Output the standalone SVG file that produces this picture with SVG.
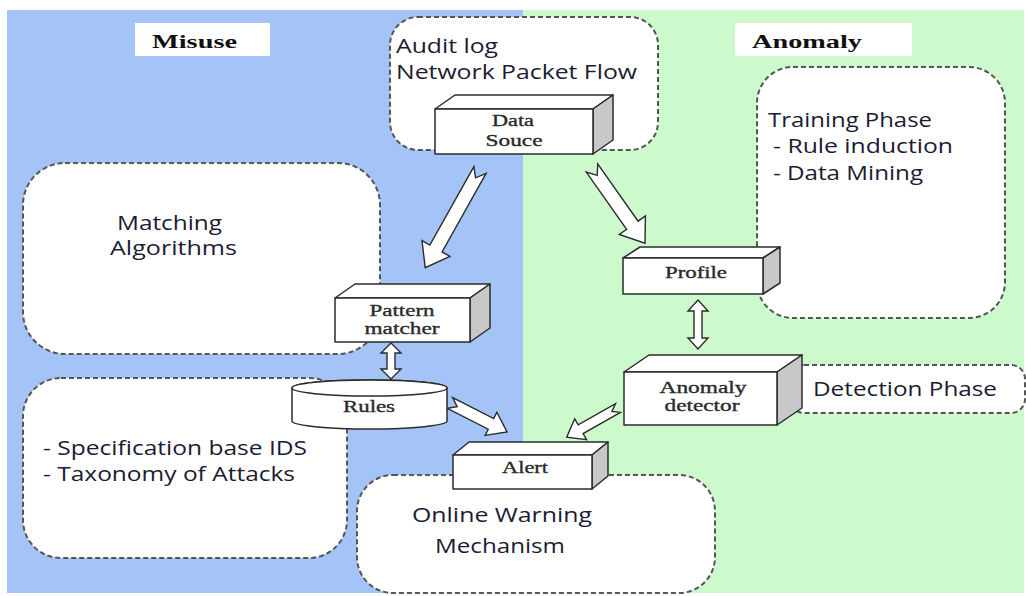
<svg xmlns="http://www.w3.org/2000/svg" width="1026" height="596" viewBox="0 0 1026 596">
  <style>
    .zone-label { font-family: "Liberation Serif", serif; font-weight: bold; font-size: 19px; fill: #111; }
    .note { font-family: "Open Sans", "Liberation Sans", sans-serif; font-size: 20px; fill: #1b1b33; }
    .boxtxt { font-family: "Liberation Serif", serif; font-size: 17px; fill: #2a2a2a; stroke: #2a2a2a; stroke-width: 0.35; text-anchor: middle; }
    .dashed { fill: #fff; stroke: #555; stroke-width: 2; stroke-dasharray: 5 3; }
    .face { fill: #fff; stroke: #2b2b2b; stroke-width: 1.5; stroke-linejoin: round; }
    .side { fill: #c8c8c8; stroke: #2b2b2b; stroke-width: 1.5; stroke-linejoin: round; }
    .arrow { fill: #fff; stroke: #2b2b2b; stroke-width: 1.4; stroke-linejoin: miter; }
  </style>

  <!-- background panels -->
  <rect x="0" y="0" width="1026" height="596" fill="#fff"/>
  <rect x="7" y="10" width="516" height="583" fill="#a4c3f6"/>
  <rect x="523" y="10" width="501" height="583" fill="#ccfacc"/>

  <!-- section titles -->
  <g id="misuse-title">
    <rect x="135" y="23" width="135" height="33" fill="#fff"/>
    <text class="zone-label" x="152" y="48" textLength="85" lengthAdjust="spacingAndGlyphs">Misuse</text>
  </g>
  <g id="anomaly-title">
    <rect x="735" y="23" width="177" height="33" fill="#fff"/>
    <text class="zone-label" x="752" y="48" textLength="110" lengthAdjust="spacingAndGlyphs">Anomaly</text>
  </g>

  <!-- annotation panels -->
  <g id="source-note">
    <rect class="dashed" x="390" y="17" width="268" height="133" rx="28"/>
    <text class="note" x="396" y="53" textLength="102" lengthAdjust="spacingAndGlyphs">Audit log</text>
    <text class="note" x="396" y="79" textLength="241" lengthAdjust="spacingAndGlyphs">Network Packet Flow</text>
  </g>
  <g id="matching-note">
    <rect class="dashed" x="23" y="163" width="357" height="191" rx="42"/>
    <text class="note" x="117" y="230" textLength="105" lengthAdjust="spacingAndGlyphs">Matching</text>
    <text class="note" x="110" y="255" textLength="127" lengthAdjust="spacingAndGlyphs">Algorithms</text>
  </g>
  <g id="spec-note">
    <rect class="dashed" x="23" y="378" width="324" height="180" rx="38"/>
    <text class="note" x="43" y="455" textLength="264" lengthAdjust="spacingAndGlyphs">- Specification base IDS</text>
    <text class="note" x="43" y="481" textLength="252" lengthAdjust="spacingAndGlyphs">- Taxonomy of Attacks</text>
  </g>
  <g id="training-note">
    <rect class="dashed" x="757" y="67" width="248" height="251" rx="36"/>
    <text class="note" x="768" y="127" textLength="164" lengthAdjust="spacingAndGlyphs">Training Phase</text>
    <text class="note" x="773" y="153" textLength="180" lengthAdjust="spacingAndGlyphs">- Rule induction</text>
    <text class="note" x="773" y="180" textLength="150" lengthAdjust="spacingAndGlyphs">- Data Mining</text>
  </g>
  <g id="detection-note">
    <rect class="dashed" x="790" y="365" width="235" height="48" rx="14"/>
    <text class="note" x="813" y="396" textLength="184" lengthAdjust="spacingAndGlyphs">Detection Phase</text>
  </g>
  <g id="warning-note">
    <rect class="dashed" x="357" y="475" width="358" height="118" rx="36"/>
    <text class="note" x="412" y="522" textLength="180" lengthAdjust="spacingAndGlyphs">Online Warning</text>
    <text class="note" x="435" y="553" textLength="130" lengthAdjust="spacingAndGlyphs">Mechanism</text>
  </g>

  <!-- connectors: block arrows -->
  <g id="connectors">
    <!-- Data Souce to Pattern matcher -->
    <path class="arrow" transform="translate(480,170) rotate(119.3)" d="M0,-7 L90,-7 L90,-16 L112,0 L90,16 L90,7 L0,7 L9,0 Z"/>
    <!-- Data Souce to Profile -->
    <path class="arrow" transform="translate(592,168) rotate(54.8)" d="M0,-7 L70,-7 L70,-16 L92,0 L70,16 L70,7 L0,7 L9,0 Z"/>
    <!-- Rules to Alert -->
    <path class="arrow" transform="translate(450,403) rotate(27)" d="M0,-6 L46,-6 L46,-13 L64,0 L46,13 L46,6 L0,6 L8,0 Z"/>
    <!-- Anomaly detector to Alert -->
    <path class="arrow" transform="translate(618,408) rotate(150.4)" d="M0,-5 L43,-5 L43,-12 L59,0 L43,12 L43,5 L0,5 L7,0 Z"/>
    <!-- Pattern matcher <-> Rules -->
    <path class="arrow" d="M391,343 L401,353 L395,353 L395,369 L401,369 L391,379 L381,369 L387,369 L387,353 L381,353 Z"/>
    <!-- Profile <-> Anomaly detector -->
    <path class="arrow" d="M698,300 L708,311 L702,311 L702,338 L708,338 L698,349 L688,338 L694,338 L694,311 L688,311 Z"/>
  </g>

  <!-- process blocks -->
  <g id="data-source">
    <path class="face" d="M435,109 L455,95 L613,95 L593,109 Z"/>
    <path class="side" d="M593,109 L613,95 L613,140 L593,154 Z"/>
    <rect class="face" x="435" y="109" width="158" height="45"/>
    <text class="boxtxt" x="513" y="126" textLength="42" lengthAdjust="spacingAndGlyphs">Data</text>
    <text class="boxtxt" x="514" y="146" textLength="57" lengthAdjust="spacingAndGlyphs">Souce</text>
  </g>
  <g id="pattern-matcher">
    <path class="face" d="M335,298 L355,284 L490,284 L470,298 Z"/>
    <path class="side" d="M470,298 L490,284 L490,328 L470,342 Z"/>
    <rect class="face" x="335" y="298" width="135" height="44"/>
    <text class="boxtxt" x="402" y="316" textLength="65" lengthAdjust="spacingAndGlyphs">Pattern</text>
    <text class="boxtxt" x="402" y="334" textLength="75" lengthAdjust="spacingAndGlyphs">matcher</text>
  </g>
  <g id="rules">
    <path class="face" d="M292,388 A77.5,8 0 0 1 447,388 L447,421 A77.5,8 0 0 1 292,421 Z"/>
    <ellipse class="face" cx="369.5" cy="388" rx="77.5" ry="8"/>
    <text class="boxtxt" x="369" y="412" textLength="52" lengthAdjust="spacingAndGlyphs">Rules</text>
  </g>
  <g id="alert">
    <path class="face" d="M453,455 L469,442 L608,442 L592,455 Z"/>
    <path class="side" d="M592,455 L608,442 L608,476 L592,489 Z"/>
    <rect class="face" x="453" y="455" width="139" height="34"/>
    <text class="boxtxt" x="525" y="473" textLength="46" lengthAdjust="spacingAndGlyphs">Alert</text>
  </g>
  <g id="profile">
    <path class="face" d="M623,258 L640,247 L780,247 L763,258 Z"/>
    <path class="side" d="M763,258 L780,247 L780,283 L763,294 Z"/>
    <rect class="face" x="623" y="258" width="140" height="36"/>
    <text class="boxtxt" x="696" y="278" textLength="62" lengthAdjust="spacingAndGlyphs">Profile</text>
  </g>
  <g id="anomaly-detector">
    <path class="face" d="M624,372 L649,355 L802,355 L777,372 Z"/>
    <path class="side" d="M777,372 L802,355 L802,408 L777,425 Z"/>
    <rect class="face" x="624" y="372" width="153" height="53"/>
    <text class="boxtxt" x="703" y="393" textLength="87" lengthAdjust="spacingAndGlyphs">Anomaly</text>
    <text class="boxtxt" x="702" y="411" textLength="75" lengthAdjust="spacingAndGlyphs">detector</text>
  </g>
</svg>
